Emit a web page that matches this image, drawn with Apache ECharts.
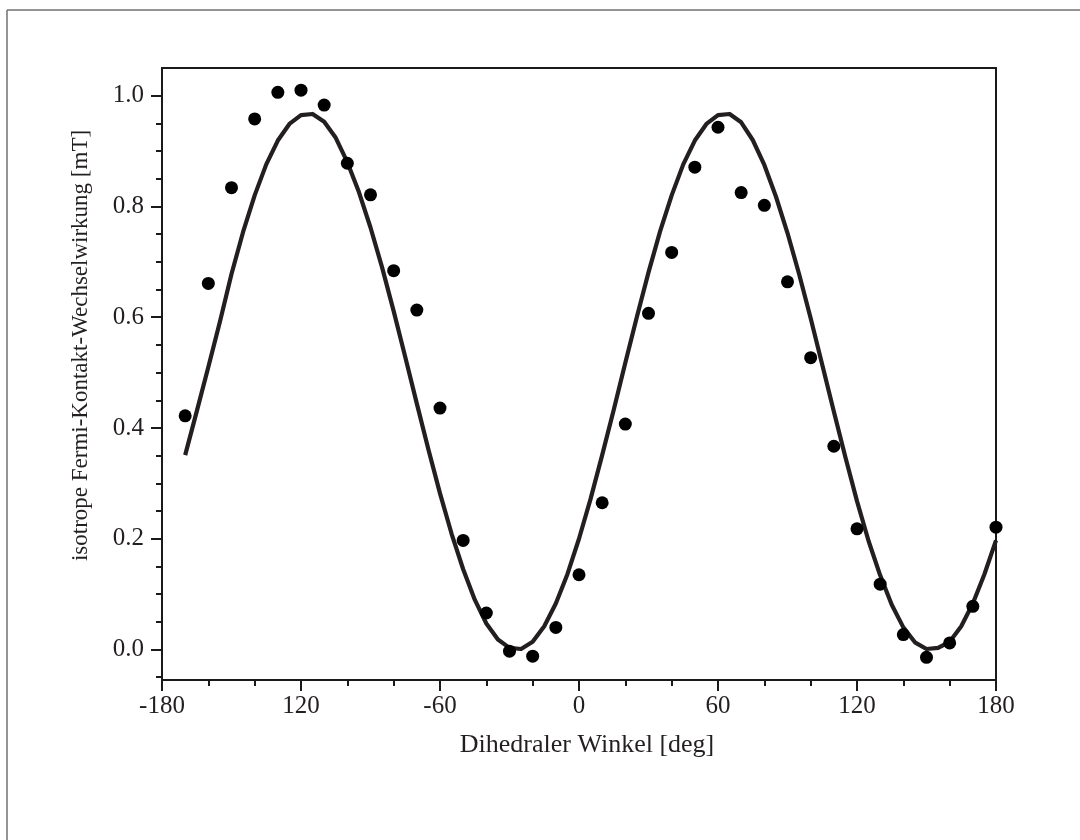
<!DOCTYPE html>
<html>
<head>
<meta charset="utf-8">
<script src="https://cdn.jsdelivr.net/npm/echarts@6/dist/echarts.min.js"></script>
<style>
html,body{margin:0;padding:0;background:#ffffff;}
#chart{width:1080px;height:840px;}
</style>
</head>
<body>
<div id="chart"></div>
<script>
// Measured data points (dihedral angle in degrees, isotropic Fermi contact coupling in mT)
const angles = [-170,-160,-150,-140,-130,-120,-110,-100,-90,-80,-70,-60,-50,-40,-30,-20,-10,0,10,20,30,40,50,60,70,80,90,100,110,120,130,140,150,160,170,180];
const couplings = [0.422,0.661,0.834,0.958,1.006,1.010,0.983,0.878,0.821,0.684,0.613,0.436,0.197,0.066,-0.003,-0.012,0.040,0.135,0.265,0.407,0.607,0.717,0.871,0.943,0.825,0.802,0.664,0.527,0.367,0.218,0.118,0.027,-0.014,0.012,0.078,0.221];

// Fitted curve, every 5 degrees
const fitAngles = [-170,-165,-160,-155,-150,-145,-140,-135,-130,-125,-120,-115,-110,-105,-100,-95,-90,-85,-80,-75,-70,-65,-60,-55,-50,-45,-40,-35,-30,-25,-20,-15,-10,-5,0,5,10,15,20,25,30,35,40,45,50,55,60,65,70,75,80,85,90,95,100,105,110,115,120,125,130,135,140,145,150,155,160,165,170,175,180];
const fitValues = [0.351,0.430,0.510,0.592,0.678,0.754,0.820,0.876,0.919,0.949,0.965,0.967,0.953,0.924,0.880,0.826,0.762,0.690,0.611,0.528,0.444,0.361,0.282,0.209,0.145,0.090,0.047,0.018,0.003,0.001,0.014,0.042,0.083,0.136,0.200,0.272,0.351,0.433,0.518,0.601,0.681,0.755,0.820,0.876,0.919,0.949,0.965,0.967,0.952,0.920,0.875,0.818,0.752,0.678,0.598,0.514,0.430,0.347,0.268,0.196,0.134,0.081,0.040,0.013,0.001,0.003,0.014,0.042,0.083,0.136,0.197];

// Axis ticks and labels (as printed in the original figure)
const xTickValues = [-180,-120,-60,0,60,120,180];
const xTickLabels = ['-180','120','-60','0','60','120','180'];
const yTickValues = [0,0.2,0.4,0.6,0.8,1.0];
const yTickLabels = ['0.0','0.2','0.4','0.6','0.8','1.0'];
const yMinorTickValues = [-0.05,0.05,0.1,0.15,0.25,0.3,0.35,0.45,0.5,0.55,0.65,0.7,0.75,0.85,0.9,0.95];

const xTitle = 'Dihedraler Winkel [deg]';
const yTitle = 'isotrope Fermi-Kontakt-Wechselwirkung [mT]';

const FONT = '"Liberation Serif", "Times New Roman", serif';
const INK = '#1a1a1a';
const TEXT = '#231f20';

const chart = echarts.init(document.getElementById('chart'), null, {renderer: 'canvas'});

const option = {
  backgroundColor: '#ffffff',
  animation: false,
  graphic: [
    {type: 'line', silent: true, shape: {x1: 7, y1: 10, x2: 1080, y2: 10}, style: {stroke: '#707070', lineWidth: 1.5}},
    {type: 'line', silent: true, shape: {x1: 7, y1: 10, x2: 7, y2: 840}, style: {stroke: '#707070', lineWidth: 1.5}}
  ],
  grid: {
    left: 162, right: 84, top: 68, bottom: 160,
    show: true, borderColor: INK, borderWidth: 2, backgroundColor: 'transparent'
  },
  xAxis: {
    type: 'value',
    min: -180, max: 180, interval: 60,
    name: xTitle,
    nameLocation: 'middle',
    nameGap: 52,
    nameTextStyle: {fontFamily: FONT, fontSize: 26, color: TEXT, padding: [0, 0, 0, 16]},
    axisLine: {show: true, onZero: false, lineStyle: {color: INK, width: 2}},
    axisTick: {show: true, inside: false, length: 11, lineStyle: {color: INK, width: 2}},
    minorTick: {show: true, splitNumber: 3, length: 6, lineStyle: {color: INK, width: 2}},
    splitLine: {show: false},
    minorSplitLine: {show: false},
    axisLabel: {
      fontFamily: FONT, fontSize: 25, color: TEXT, margin: 14,
      formatter: function (v) {
        const i = xTickValues.indexOf(v);
        return i >= 0 ? xTickLabels[i] : '';
      }
    }
  },
  yAxis: [
    {
      type: 'value',
      min: -0.055, max: 1.05,
      position: 'left',
      name: yTitle,
      nameLocation: 'middle',
      nameGap: 70,
      nameTextStyle: {fontFamily: FONT, fontSize: 23, color: TEXT, padding: [0, 0, 0, 57]},
      axisLine: {show: true, onZero: false, lineStyle: {color: INK, width: 2}},
      axisTick: {show: true, inside: false, length: 11, customValues: yTickValues, lineStyle: {color: INK, width: 2}},
      splitLine: {show: false},
      axisLabel: {
        fontFamily: FONT, fontSize: 25, color: TEXT, margin: 18,
        customValues: yTickValues,
        formatter: function (v) {
          let best = 0;
          for (let i = 0; i < yTickValues.length; i++) {
            if (Math.abs(yTickValues[i] - v) < Math.abs(yTickValues[best] - v)) best = i;
          }
          return yTickLabels[best];
        }
      }
    },
    {
      type: 'value',
      min: -0.055, max: 1.05,
      position: 'left',
      offset: 0,
      axisLine: {show: false, onZero: false},
      axisTick: {show: true, inside: false, length: 6, customValues: yMinorTickValues, lineStyle: {color: INK, width: 2}},
      axisLabel: {show: false},
      splitLine: {show: false}
    }
  ],
  series: [
    {
      type: 'line',
      name: 'fit',
      data: fitAngles.map((a, i) => [a, fitValues[i]]),
      showSymbol: false,
      symbol: 'none',
      smooth: false,
      lineStyle: {color: '#231f20', width: 4.2, join: 'round'},
      z: 2
    },
    {
      type: 'scatter',
      name: 'data',
      data: angles.map((a, i) => [a, couplings[i]]),
      symbol: 'circle',
      symbolSize: 13,
      itemStyle: {color: '#000000', opacity: 1},
      clip: false,
      z: 3
    }
  ]
};

chart.setOption(option);
</script>
</body>
</html>
